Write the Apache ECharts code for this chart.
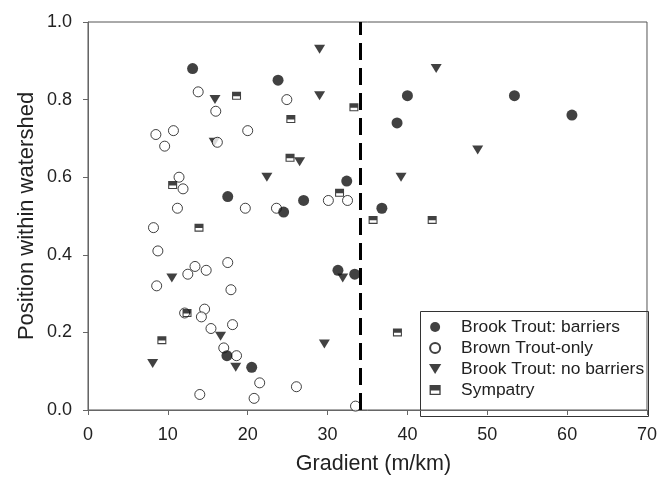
<!DOCTYPE html>
<html>
<head>
<meta charset="utf-8">
<script src="https://cdn.jsdelivr.net/npm/echarts@6/dist/echarts.min.js"></script>
<style>html,body{margin:0;padding:0;background:#fff}#c{width:660px;height:480px}</style>
</head>
<body>
<div id="c"></div>
<script>
// ---- data ----
const brookBarriers = [
  [13.1,0.88],[23.8,0.85],[40.0,0.81],[38.7,0.74],[53.4,0.81],[60.6,0.76],
  [17.5,0.55],[32.4,0.59],[27.0,0.54],[24.5,0.51],[36.8,0.52],[31.3,0.36],
  [33.4,0.35],[17.4,0.14],[20.5,0.11]
];
const brownOnly = [
  [13.8,0.82],[16.0,0.77],[8.5,0.71],[10.7,0.72],[9.6,0.68],[20.0,0.72],
  [16.2,0.69],[24.9,0.80],[11.4,0.60],[11.9,0.57],[11.2,0.52],[19.7,0.52],
  [23.6,0.52],[8.2,0.47],[8.75,0.41],[13.4,0.37],[14.8,0.36],[12.5,0.35],
  [17.5,0.38],[8.6,0.32],[17.9,0.31],[30.1,0.54],[32.5,0.54],[12.1,0.25],
  [14.6,0.26],[14.2,0.24],[18.1,0.22],[15.4,0.21],[17.0,0.16],[18.6,0.14],
  [21.5,0.07],[14.0,0.04],[20.8,0.03],[26.1,0.06],[33.5,0.01]
];
const brookNoBarriers = [
  [15.9,0.80],[15.8,0.69],[29.0,0.93],[29.0,0.81],[43.6,0.88],[48.8,0.67],
  [22.4,0.60],[26.5,0.64],[39.2,0.60],[31.9,0.34],[10.5,0.34],[16.6,0.19],
  [8.1,0.12],[18.5,0.11],[29.6,0.17]
];
const sympatry = [
  [18.6,0.81],[25.4,0.75],[33.3,0.78],[10.6,0.58],[13.9,0.47],[25.3,0.65],
  [31.5,0.56],[35.7,0.49],[43.1,0.49],[12.4,0.25],[9.25,0.18],[38.75,0.20]
];
const thresholdGradient = 34.1;
const seriesNames = ['Brook Trout: barriers','Brown Trout-only','Brook Trout: no barriers','Sympatry'];
const xTitle = 'Gradient (m/km)';
const yTitle = 'Position within watershed';

// ---- chart ----
const FONT = '"Liberation Sans", Arial, Helvetica, sans-serif';
const AXC = '#666';
const sympPath = 'path://M0,0 L10,0 L10,9 L0,9 Z M1.2,5 L1.2,7.8 L8.8,7.8 L8.8,5 Z';
const chart = echarts.init(document.getElementById('c'), null, {renderer:'canvas'});
chart.setOption({
  animation:false,
  backgroundColor:'#fff',
  textStyle:{fontFamily:FONT},
  grid:{left:88,right:12,top:22,bottom:64,show:true,borderColor:'#555',borderWidth:1,backgroundColor:'transparent'},
  xAxis:{
    type:'value',min:0,max:70,interval:10,
    name:xTitle,nameLocation:'middle',nameGap:43,nameMoveOverlap:false,
    nameTextStyle:{fontSize:21.5,color:'#222',fontFamily:FONT,padding:[0,0,0,12]},
    axisLine:{show:true,lineStyle:{color:AXC,width:1}},
    axisTick:{show:true,inside:false,length:5,lineStyle:{color:AXC}},
    axisLabel:{fontSize:18,color:'#222',margin:16,fontFamily:FONT},
    splitLine:{show:false}
  },
  yAxis:{
    type:'value',min:0,max:1,interval:0.2,
    name:yTitle,nameLocation:'middle',nameGap:50,nameMoveOverlap:false,
    nameTextStyle:{fontSize:22,color:'#222',fontFamily:FONT},
    axisLine:{show:true,lineStyle:{color:AXC,width:1}},
    axisTick:{show:true,inside:false,length:5,lineStyle:{color:AXC}},
    axisLabel:{fontSize:18,color:'#222',margin:16,fontFamily:FONT,formatter:v=>v.toFixed(1)},
    splitLine:{show:false}
  },
  legend:{
    orient:'vertical',left:424,top:311.5,
    itemWidth:42,itemHeight:10,itemGap:0,
    textStyle:{fontSize:17.4,lineHeight:21,color:'#222',fontFamily:FONT},
    data:[
      {name:seriesNames[0],icon:'circle'},
      {name:seriesNames[1],icon:'circle'},
      {name:seriesNames[2],icon:'path://M0,0 L11,0 L5.5,9 Z'},
      {name:seriesNames[3],icon:sympPath}
    ],
    selectedMode:false
  },
  graphic:[{
    type:'rect',z:0,silent:true,
    shape:{x:420.5,y:311.5,width:228,height:105},
    style:{fill:'none',stroke:'#333',lineWidth:1}
  }],
  series:[
    {name:seriesNames[2],type:'scatter',data:brookNoBarriers,symbol:'triangle',symbolRotate:180,symbolSize:[11,9],
     itemStyle:{color:'#111'},z:2},
    {name:seriesNames[1],type:'scatter',data:brownOnly,symbol:'circle',symbolSize:10,
     itemStyle:{color:'#fff',borderColor:'#111',borderWidth:1},z:3},
    {name:seriesNames[0],type:'scatter',data:brookBarriers,symbol:'circle',symbolSize:11,
     itemStyle:{color:'#111'},z:4},
    {name:seriesNames[3],type:'scatter',data:sympatry,symbol:sympPath,symbolSize:[9,8],
     itemStyle:{color:'#111'},z:5,
     markLine:{silent:true,symbol:['none','none'],label:{show:false},
       lineStyle:{color:'#000',width:3,type:[17,8]},
       data:[{xAxis:thresholdGradient}]}}
  ]
});
</script>
</body>
</html>
